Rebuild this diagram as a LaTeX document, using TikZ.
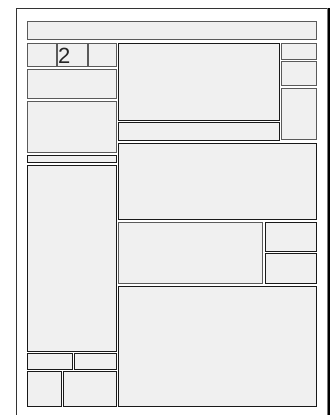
\documentclass[tikz,border=0pt]{standalone}
\usepackage{fontspec}
\setmainfont{Liberation Sans}
\usepackage{xcolor}
\usepackage{tikz}
\usetikzlibrary{positioning, calc}
\definecolor{panelgray}{RGB}{240, 240, 240}
\definecolor{edgegray}{RGB}{90, 90, 90}
\definecolor{shadowgray}{RGB}{120, 120, 120}

\begin{document}
\begin{tikzpicture}[
    x=1pt, y=-1pt,
    panel/.style={
        rectangle, draw=edgegray, fill=panelgray,
        line width=0.8pt, inner sep=0pt, outer sep=0pt,
        anchor=north west
    },
    darkpanel/.style={panel, draw=black!90},
    pageline/.style={draw=black!80, line width=0.8pt}
]
\useasboundingbox (0,0) rectangle (331,415);

% ==============================================================================
% PAGE
% ==============================================================================
\fill[white] (16,8) rectangle (327,415);
\coordinate (pagebl) at (16,415);
\coordinate (pagetl) at (16,8);
\coordinate (pagetr) at (327,8);
\coordinate (pagebr) at (327,415);
\draw[pageline] (pagebl) -- (pagetl) -- (pagetr);
\draw[shadowgray, line width=1pt] (pagetr) -- (pagebr);
\draw[black, line width=2pt] ($(pagetr)+(2,0)$) -- ($(pagebr)+(2,0)$);

% ==============================================================================
% HEADER
% ==============================================================================
\node[panel, minimum width=289, minimum height=18] (header) at (27,21) {};

% ==============================================================================
% LEFT COLUMN
% ==============================================================================
\node[panel, minimum width=29, minimum height=23] (tabone) at (27,43) {};
\node[panel, minimum width=30, minimum height=23] (tabtwo) at (57,43) {};
\node[panel, minimum width=28, minimum height=23] (tabthree) at (88,43) {};
\node[anchor=west, inner sep=0pt, font=\fontsize{22}{22}\selectfont, text=black!85] (pagenum) at ($(tabtwo.west)+(1,1)$) {2};

\node[panel, minimum width=89, minimum height=29] (leftbrief) at (27,69) {};
\node[panel, minimum width=89, minimum height=51] (leftstory) at (27,101) {};
\node[darkpanel, minimum width=89, minimum height=7] (leftstrip) at (27,155) {};
\node[darkpanel, minimum width=89, minimum height=186] (lefttall) at (27,165) {};
\node[darkpanel, minimum width=45, minimum height=16] (adone) at (27,353) {};
\node[darkpanel, minimum width=42, minimum height=16] (adtwo) at (74,353) {};
\node[darkpanel, minimum width=34, minimum height=35] (footone) at (27,371) {};
\node[darkpanel, minimum width=53, minimum height=35] (foottwo) at (63,371) {};

% ==============================================================================
% MIDDLE AND RIGHT
% ==============================================================================
\node[darkpanel, minimum width=161, minimum height=77] (leadphoto) at (118,43) {};
\node[darkpanel, minimum width=161, minimum height=18] (leadcaption) at (118,122) {};
\node[panel, minimum width=35, minimum height=16] (sideone) at (281,43) {};
\node[panel, minimum width=35, minimum height=24] (sidetwo) at (281,61) {};
\node[panel, minimum width=35, minimum height=51] (sidethree) at (281,88) {};

\node[darkpanel, minimum width=198, minimum height=76] (leadstory) at (118,143) {};
\node[panel, minimum width=144, minimum height=61] (feature) at (118,222) {};
\node[darkpanel, minimum width=51, minimum height=29] (boxone) at (265,222) {};
\node[darkpanel, minimum width=51, minimum height=30] (boxtwo) at (265,253) {};
\node[darkpanel, minimum width=198, minimum height=120] (bottomstory) at (118,286) {};

\end{tikzpicture}
\end{document}
